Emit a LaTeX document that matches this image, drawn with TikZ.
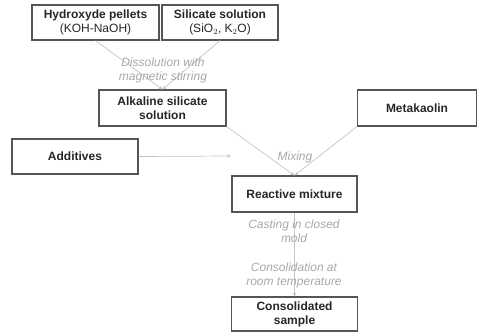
\documentclass[tikz,border=0pt]{standalone}
\usepackage{fontspec}
\setmainfont{Liberation Sans}
\usetikzlibrary{arrows.meta}
\definecolor{boxline}{HTML}{555555}
\definecolor{arrowc}{HTML}{C4C4C4}
\definecolor{labelc}{HTML}{A8A8A8}
\begin{document}
\begin{tikzpicture}[x=1pt,y=-1pt,
  box/.style={draw=boxline,line width=1.1pt,rectangle,align=center,font=\fontsize{12}{14}\selectfont\bfseries,text=black!85,inner sep=2pt},
  flow/.style={draw=arrowc,line width=0.7pt,-{Stealth[length=4pt,width=3.5pt]}},
  lab/.style={font=\fontsize{12}{14}\selectfont\itshape,text=labelc,align=center}]
\useasboundingbox (0,0) rectangle (478,332);
\node[box,minimum width=127,minimum height=35] (hyd) at (95.5,22.5) {Hydroxyde pellets\\\mdseries (KOH-NaOH)};
\node[box,minimum width=116,minimum height=35] (sil) at (220,22.5) {Silicate solution\\\mdseries (SiO$_2$, K$_2$O)};
\node[box,minimum width=127,minimum height=36] (alk) at (162.5,108) {Alkaline silicate\\solution};
\node[box,minimum width=119,minimum height=36] (met) at (417,108) {Metakaolin};
\node[box,minimum width=126,minimum height=35] (add) at (75,156.5) {Additives};
\node[box,minimum width=125,minimum height=36] (rea) at (294.5,194) {Reactive mixture};
\node[box,minimum width=126,minimum height=34] (con) at (294.5,314) {Consolidated\\sample};
\coordinate (addend) at (231,156);
\draw[flow] (hyd.south) -- (alk.north);
\draw[flow] (sil.south) -- (alk.north);
\draw[flow] (alk.south east) -- (rea.north);
\draw[flow] (met.south west) -- (rea.north);
\draw[flow] (add.east) -- (addend);
\draw[flow] (rea.south) -- (con.north);
\node[lab] (l1) at (163,70) {Dissolution with\\magnetic stirring};
\node[lab] (l2) at (295,157) {Mixing};
\node[lab] (l3) at (294,231) {Casting in closed\\mold};
\node[lab] (l4) at (294,275) {Consolidation at\\room temperature};
\end{tikzpicture}
\end{document}
